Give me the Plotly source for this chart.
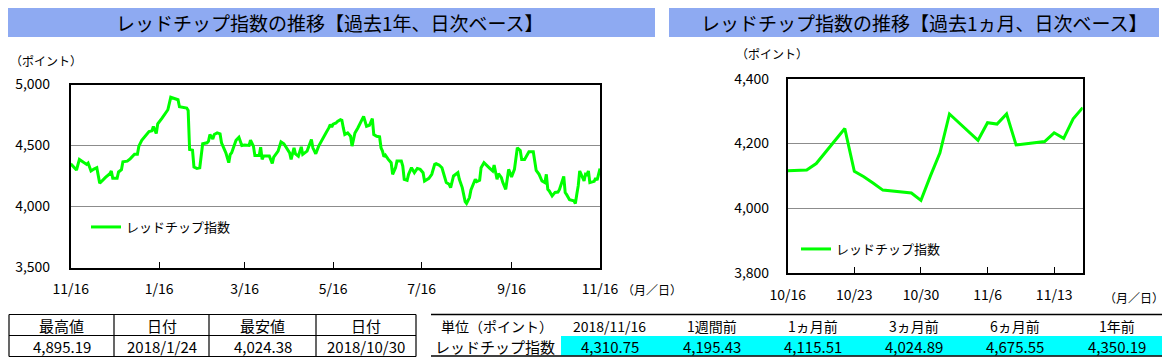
import datetime as dt
import plotly.graph_objects as go

W, H = 1170, 363
OX, OY = 8, 8  # page body margin of the html page
FONT = "Noto Sans CJK JP"
GREEN = "#00ff00"

# ---------------- data ----------------
year_start = "2017-11-16"
# one-year chart: days since 2017-11-16 and index values (up to 2018-10-15)
year_day_offsets = [0, 4, 6, 8, 9, 11, 12, 14, 16, 18, 20, 22, 24, 27, 28, 29, 32, 33, 35, 36,
                    39, 41, 44, 46, 47, 49, 52, 54, 56, 57, 59, 60, 63, 66, 67, 69, 71, 74, 75, 77,
                    80, 81, 82, 84, 85, 87, 89, 91, 94, 95, 96, 98, 99, 101, 103, 104, 107, 109, 110, 111,
                    113, 114, 116, 118, 120, 123, 124, 126, 127, 130, 131, 132, 133, 137, 139, 140, 143, 145, 147, 149,
                    151, 152, 154, 155, 157, 159, 160, 163, 165, 166, 167, 169, 171, 174, 176, 178, 179, 180, 181, 183,
                    184, 186, 187, 188, 189, 191, 193, 194, 196, 198, 200, 202, 204, 206, 208, 209, 211, 213, 214, 215,
                    216, 217, 219, 221, 222, 224, 225, 228, 229, 230, 232, 233, 235, 237, 239, 241, 243, 244, 247, 249,
                    251, 252, 254, 256, 257, 259, 261, 262, 264, 267, 268, 270, 272, 273, 275, 276, 279, 280, 282, 283,
                    285, 287, 289, 291, 292, 294, 295, 297, 298, 300, 302, 303, 304, 306, 307, 308, 310, 311, 313, 315,
                    316, 319, 320, 321, 323, 325, 327, 328, 329, 330, 332, 333]
year_values = [4350.19, 4299, 4386, 4372, 4364, 4345, 4356, 4291, 4307, 4318, 4190, 4217, 4239, 4269, 4291, 4231, 4231, 4283, 4302, 4367,
               4372, 4391, 4429, 4429, 4495, 4543, 4590, 4614, 4620, 4655, 4598, 4677, 4725, 4785, 4793, 4895.19, 4889, 4875, 4818, 4815,
               4807, 4788, 4467, 4462, 4323, 4312, 4318, 4514, 4522, 4535, 4590, 4554, 4590, 4603, 4595, 4522, 4440, 4359, 4427, 4440,
               4508, 4543, 4568, 4500, 4503, 4500, 4543, 4495, 4418, 4418, 4486, 4386, 4413, 4413, 4353, 4405, 4454, 4530, 4514, 4476,
               4440, 4386, 4481, 4432, 4413, 4489, 4427, 4454, 4508, 4549, 4481, 4432, 4495, 4568, 4603, 4644, 4671, 4652, 4675.55, 4685,
               4698, 4712, 4707, 4644, 4590, 4603, 4576, 4495, 4603, 4644, 4693, 4739, 4658, 4666, 4720, 4590, 4576, 4571, 4481, 4454,
               4408, 4421, 4386, 4359, 4264, 4318, 4372, 4372, 4332, 4223, 4215, 4264, 4318, 4277, 4312, 4304, 4277, 4209, 4231, 4264,
               4345, 4351, 4340, 4318, 4277, 4196, 4182, 4155, 4250, 4277, 4223, 4155, 4041, 4024.89, 4073, 4135, 4223, 4204, 4215, 4318,
               4359, 4332, 4313, 4291, 4340, 4223, 4269, 4236, 4196, 4141, 4304, 4277, 4242, 4304, 4386, 4481, 4459, 4386, 4386, 4427,
               4448, 4448, 4386, 4296, 4264, 4209, 4196, 4264, 4141, 4128, 4087, 4106]

# one-month chart (also the last month of the one-year chart)
month_dates = ["2018-10-16", "2018-10-18", "2018-10-19", "2018-10-22", "2018-10-23", "2018-10-24",
               "2018-10-25", "2018-10-26", "2018-10-29", "2018-10-30", "2018-10-31", "2018-11-01",
               "2018-11-02", "2018-11-05", "2018-11-06", "2018-11-07", "2018-11-08", "2018-11-09",
               "2018-11-12", "2018-11-13", "2018-11-14", "2018-11-15", "2018-11-16"]
month_values = [4115.51, 4118, 4138, 4246, 4114, 4097, 4077, 4056, 4047, 4024.38, 4100, 4171,
                4291, 4210, 4264, 4260, 4291, 4195.43, 4206, 4233, 4216, 4276, 4310.75]

series_name = "レッドチップ指数"
year_tickvals = ["2017-11-16", "2018-01-16", "2018-03-16", "2018-05-16", "2018-07-16", "2018-09-16", "2018-11-16"]
year_ticktext = ["11/16", "1/16", "3/16", "5/16", "7/16", "9/16", "11/16"]
month_tickvals = ["2018-10-16", "2018-10-23", "2018-10-30", "2018-11-06", "2018-11-13"]
month_ticktext = ["10/16", "10/23", "10/30", "11/6", "11/13"]

title_year = "レッドチップ指数の推移【過去1年、日次ベース】"
title_month = "レッドチップ指数の推移【過去1ヵ月、日次ベース】"

hl_headers = ["最高値", "日付", "最安値", "日付"]
hl_values = ["4,895.19", "2018/1/24", "4,024.38", "2018/10/30"]

perf_headers = ["単位（ポイント）", "2018/11/16", "1週間前", "1ヵ月前", "3ヵ月前", "6ヵ月前", "1年前"]
perf_values = ["レッドチップ指数", "4,310.75", "4,195.43", "4,115.51", "4,024.89", "4,675.55", "4,350.19"]

# ---------------- build ----------------
d0 = dt.date.fromisoformat(year_start)
year_x = [(d0 + dt.timedelta(days=d)).isoformat() for d in year_day_offsets] + month_dates
year_y = year_values + month_values


def px(x):
    return (x - OX) / W


def py(y):
    return 1 - (y - OY) / H


fig = go.Figure()
fig.add_trace(go.Scatter(x=year_x, y=year_y, mode="lines", name=series_name,
                         line=dict(color=GREEN, width=3), xaxis="x", yaxis="y", legend="legend"))
fig.add_trace(go.Scatter(x=month_dates, y=month_values, mode="lines", name=series_name,
                         line=dict(color=GREEN, width=3), xaxis="x2", yaxis="y2", legend="legend2"))

axis_common = dict(showline=True, linecolor="black", linewidth=1.5, mirror=True, automargin=False,
                   tickfont=dict(family=FONT, size=14, color="black"))

fig.update_layout(
    width=W, height=H, margin=dict(l=0, r=0, t=0, b=0, autoexpand=False),
    paper_bgcolor="white", plot_bgcolor="white",
    font=dict(family=FONT, color="black"),
    xaxis=dict(domain=[px(70.7), px(600)], type="date", range=["2017-11-16", "2018-11-16"],
               tickvals=year_tickvals, ticktext=year_ticktext, ticks="inside", ticklen=6,
               tickcolor="black", showgrid=False, ticklabelstandoff=8, anchor="y", **axis_common),
    yaxis=dict(domain=[py(267.5), py(84.5)], range=[3500, 5000], tickvals=[3500, 4000, 4500, 5000],
               tickformat=",d", showgrid=True, gridcolor="#8c8c8c", gridwidth=1, ticks="",
               ticklabelstandoff=16, anchor="x", zeroline=False, **axis_common),
    xaxis2=dict(domain=[px(787.7), px(1082.7)], type="date", range=["2018-10-16", "2018-11-16"],
                tickvals=month_tickvals, ticktext=month_ticktext, ticks="inside", ticklen=6,
                tickcolor="black", showgrid=False, ticklabelstandoff=8, anchor="y2", **axis_common),
    yaxis2=dict(domain=[py(273), py(78.7)], range=[3800, 4400], tickvals=[3800, 4000, 4200, 4400],
                tickformat=",d", showgrid=True, gridcolor="#8c8c8c", gridwidth=1, ticks="",
                ticklabelstandoff=14, anchor="x2", zeroline=False, **axis_common),
    legend=dict(x=px(86), y=py(227), xanchor="left", yanchor="middle", bgcolor="rgba(0,0,0,0)",
                font=dict(family=FONT, size=13, color="black"), itemwidth=30),
    legend2=dict(x=px(796), y=py(249), xanchor="left", yanchor="middle", bgcolor="rgba(0,0,0,0)",
                 font=dict(family=FONT, size=13, color="black"), itemwidth=30),
    showlegend=True,
)

shapes = []
annotations = []


def text(x, y, s, size=13, xanchor="center"):
    annotations.append(dict(x=px(x), y=py(y), xref="paper", yref="paper", text=s, showarrow=False,
                            xanchor=xanchor, yanchor="middle", font=dict(family=FONT, size=size, color="black")))


def rect(x0, y0, x1, y1, fill=None, line=None, lw=1):
    shapes.append(dict(type="rect", xref="paper", yref="paper", x0=px(x0), x1=px(x1), y0=py(y1), y1=py(y0),
                       fillcolor=fill if fill else "rgba(0,0,0,0)",
                       line=dict(color=line if line else "rgba(0,0,0,0)", width=lw if line else 0),
                       layer="below" if fill else "above"))


def hline(x0, x1, y, lw=1.2):
    shapes.append(dict(type="line", xref="paper", yref="paper", x0=px(x0), x1=px(x1), y0=py(y), y1=py(y),
                       line=dict(color="black", width=lw)))


def vline(x, y0, y1, lw=1.2):
    shapes.append(dict(type="line", xref="paper", yref="paper", x0=px(x), x1=px(x), y0=py(y0), y1=py(y1),
                       line=dict(color="black", width=lw)))


# title bars
rect(8, 8, 655, 37, fill="#8eaaf2")
rect(669, 8, 1159, 37, fill="#8eaaf2")
text(330, 22.5, title_year, size=19)
text(924, 22.5, title_month, size=19)

# axis unit labels
text(8, 60, "（ポイント）", size=12, xanchor="left")
text(734, 53, "（ポイント）", size=12, xanchor="left")
text(620, 289, "（月／日）", size=12, xanchor="left")
text(1102, 297, "（月／日）", size=12, xanchor="left")

# left table (high / low)
col_edges = [9, 114, 209, 316, 416]
row_edges = [314.5, 335.5, 356.5]
for yv in row_edges:
    hline(col_edges[0], col_edges[-1], yv)
for xv in col_edges:
    vline(xv, row_edges[0], row_edges[-1])
for i in range(4):
    cx = (col_edges[i] + col_edges[i + 1]) / 2
    text(cx, 325.5, hl_headers[i], size=15)
    text(cx, 346.5, hl_values[i], size=15)

# right table (performance)
rect(561, 336, 1162, 355.5, fill="#00ffff")
hline(431, 1162, 314.5, lw=1.5)
hline(431, 1162, 356, lw=1.5)
perf_centers = [497, 610, 712, 813, 914, 1015, 1117]
for i, s in enumerate(perf_headers):
    text(perf_centers[i], 325.5, s, size=14)
for i, s in enumerate(perf_values):
    text(perf_centers[i] - (2 if i == 0 else 0), 346.5, s, size=15)

fig.update_layout(shapes=shapes, annotations=annotations)
fig.write_html("out.html")
